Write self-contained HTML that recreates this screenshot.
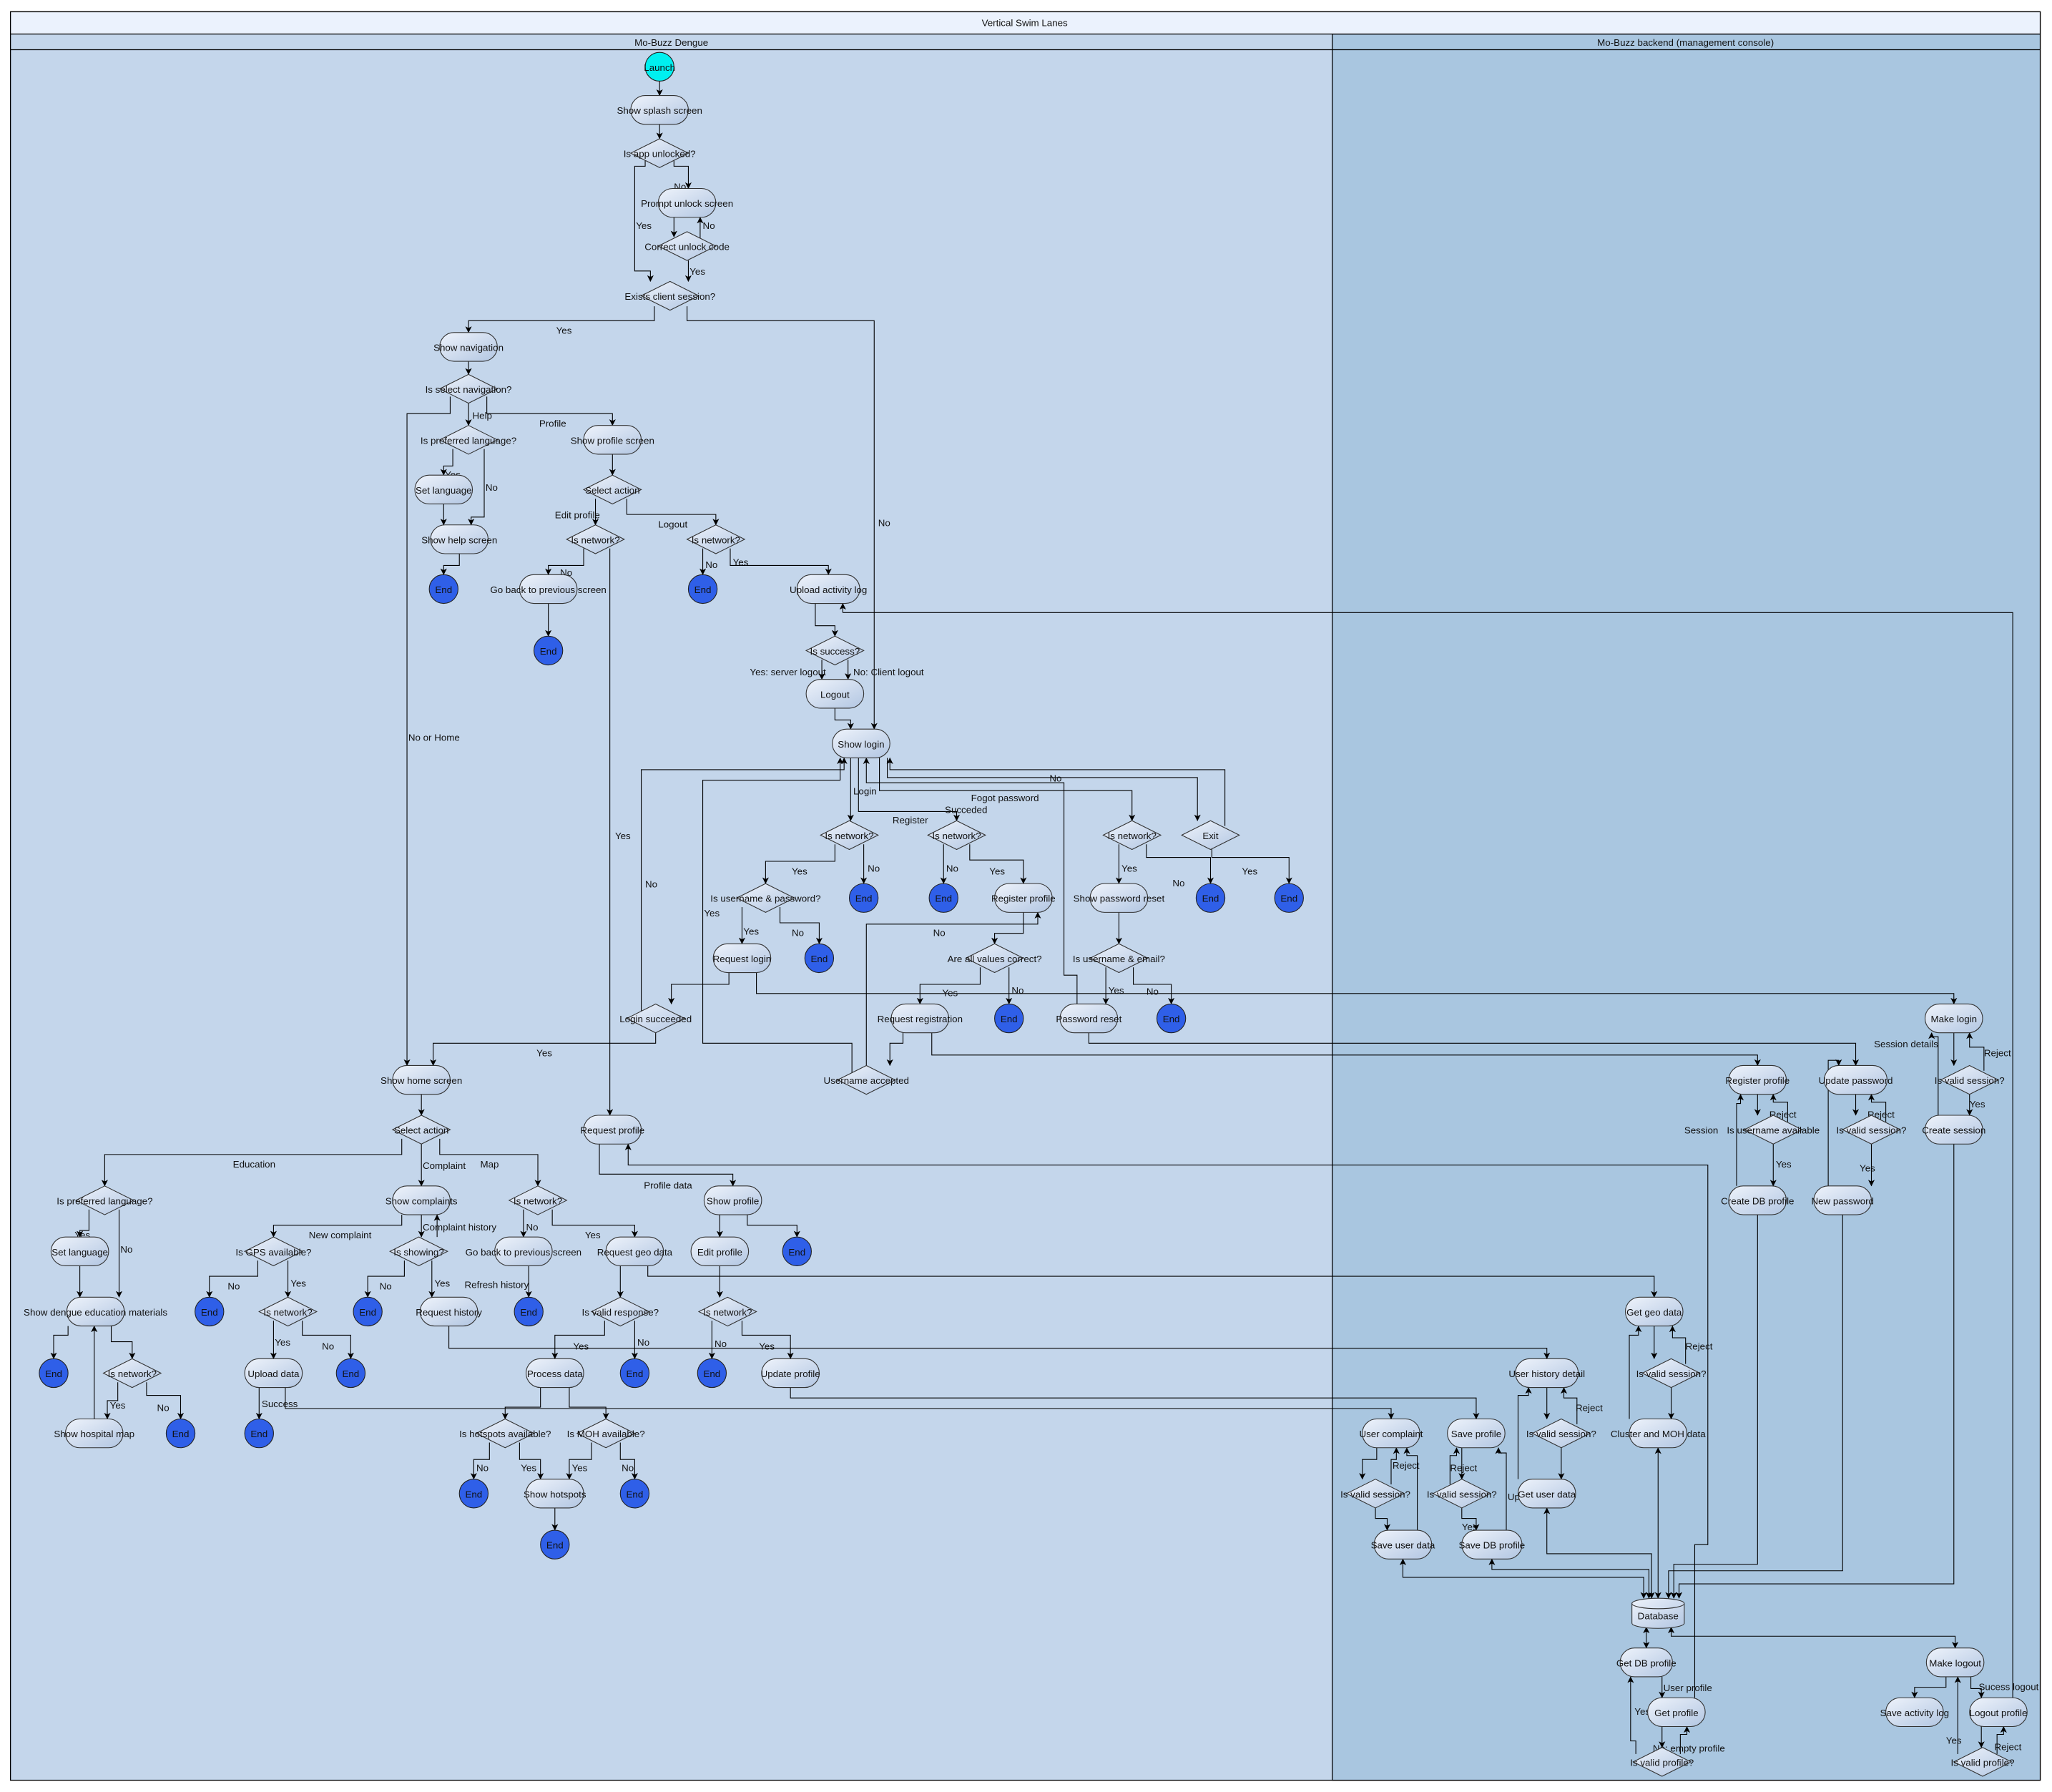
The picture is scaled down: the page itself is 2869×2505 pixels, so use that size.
<!DOCTYPE html>
<html><head><meta charset="utf-8"><style>
html,body{margin:0;padding:0;background:#fff}
svg{display:block}
text{font-family:"Liberation Sans",sans-serif;font-size:7.3px;fill:#111}
.n{fill:url(#g);stroke:#333;stroke-width:0.6}
.e{fill:none;stroke:#000;stroke-width:0.6;marker-end:url(#a)}
.f{fill:none;stroke:#000;stroke-width:0.6}
.end{fill:#2f5fe8;stroke:#222;stroke-width:0.6}
</style></head><body>
<svg width="2869" height="2505" viewBox="0 0 1568 1369" preserveAspectRatio="none" xmlns="http://www.w3.org/2000/svg">
<defs>
<linearGradient id="g" x1="0" y1="0" x2="1" y2="1"><stop offset="0" stop-color="#eef3fb"/><stop offset="1" stop-color="#b2c6e2"/></linearGradient>
<marker id="a" viewBox="0 0 8 8" refX="7.5" refY="4" markerWidth="5" markerHeight="5" markerUnits="userSpaceOnUse" orient="auto"><path d="M0,0 L8,4 L0,8 L2,4 z" fill="#000"/></marker>
<marker id="b" viewBox="0 0 8 8" refX="0.5" refY="4" markerWidth="5" markerHeight="5" markerUnits="userSpaceOnUse" orient="auto"><path d="M8,0 L0,4 L8,8 L6,4 z" fill="#000"/></marker>
</defs>
<!-- frame -->
<rect x="8" y="9" width="1551" height="1351" fill="#c4d6eb" stroke="#000" stroke-width="0.7"/>
<rect x="1018" y="26" width="541" height="1334" fill="#a9c6e0" stroke="#000" stroke-width="0.7"/>
<rect x="8" y="9" width="1551" height="17" fill="#ebf2fd" stroke="#000" stroke-width="0.7"/>
<line x1="8" y1="38" x2="1559" y2="38" stroke="#000" stroke-width="0.7"/>
<text x="783" y="20" text-anchor="middle" font-size="8.5">Vertical Swim Lanes</text>
<text x="513" y="35" text-anchor="middle">Mo-Buzz Dengue</text>
<text x="1288" y="35" text-anchor="middle">Mo-Buzz backend (management console)</text>

<!-- EDGES -->
<g>
<path class="e" d="M504,62V73"/><path class="e" d="M504,95V106"/>
<path class="e" d="M493,122V127H485V207H497V215"/>
<path class="e" d="M515,122V127H526V144"/>
<path class="e" d="M515,166V181"/><path class="e" d="M535,182V166"/>
<path class="e" d="M526,199V215"/>
<path class="e" d="M500,234V245H358V254"/>
<path class="e" d="M525,234V245H668V557"/>
<path class="e" d="M358,276V286"/>
<path class="e" d="M344,303V316H311V814"/>
<path class="e" d="M358,308V325"/>
<path class="e" d="M372,303V316H468V325"/>
<path class="e" d="M346,343V356H339V363"/>
<path class="e" d="M370,343V395H360V401"/>
<path class="e" d="M339,385V401"/>
<path class="e" d="M351,423V432H339V439"/>
<path class="e" d="M468,347V363"/>
<path class="e" d="M455,381V401"/>
<path class="e" d="M479,381V393H547V401"/>
<path class="e" d="M446,419V432H419V439"/>
<path class="e" d="M466,419V852"/>
<path class="e" d="M419,461V486"/>
<path class="e" d="M537,419V439"/>
<path class="e" d="M558,419V432H633V439"/>
<path class="e" d="M623,461V478H638V486"/>
<path class="e" d="M628,504V519"/>
<path class="e" d="M648,504V519"/>
<path class="e" d="M638,541V550H650V557"/>
<path class="e" d="M650,579V627"/>
<path class="e" d="M656,579V620H731V627"/>
<path class="e" d="M672,579V604H865V627"/>
<path class="e" d="M678,579V594H915V627"/>
<path class="e" d="M936,631V588H680V579"/>
<path class="e" d="M926,645V655H985V675"/>
<path class="e" d="M638,645V658H585V675"/>
<path class="e" d="M660,645V675"/>
<path class="e" d="M721,645V675"/>
<path class="e" d="M741,645V657H782V675"/>
<path class="e" d="M855,645V675"/>
<path class="e" d="M876,645V655H925V675"/>
<path class="e" d="M567,693V721"/>
<path class="e" d="M596,693V705H626V721"/>
<path class="e" d="M557,743V752H513V767"/>
<path class="e" d="M578,743V759H1493V767"/>
<path class="e" d="M501,789V797H331V814"/>
<path class="e" d="M490,778V588H645V579"/>
<path class="e" d="M782,697V713H760V721"/>
<path class="e" d="M749,739V752H703V767"/>
<path class="e" d="M771,739V767"/>
<path class="e" d="M690,789V797H680V814"/>
<path class="e" d="M712,789V806H1343V814"/>
<path class="e" d="M662,814V706H793V697"/>
<path class="e" d="M651,820V797H537V596H642V579"/>
<path class="e" d="M855,697V721"/>
<path class="e" d="M845,739V767"/>
<path class="e" d="M866,739V752H895V767"/>
<path class="e" d="M832,789V797H1418V814"/>
<path class="e" d="M823,767V745H813V598H662V579"/>
<path class="e" d="M322,836V852"/>
<path class="e" d="M307,870V882H80V906"/>
<path class="e" d="M322,874V906"/>
<path class="e" d="M336,870V882H411V906"/>
<path class="e" d="M68,924V940H61V945"/>
<path class="e" d="M91,924V991"/>
<path class="e" d="M61,967V991"/>
<path class="e" d="M52,1013V1020H41V1038"/>
<path class="e" d="M85,1013V1025H101V1038"/>
<path class="e" d="M72,1084V1013"/>
<path class="e" d="M90,1056V1070H82V1084"/>
<path class="e" d="M112,1056V1066H138V1084"/>
<path class="e" d="M307,928V936H209V945"/>
<path class="e" d="M322,928V945"/>
<path class="e" d="M334,945V928"/>
<path class="e" d="M197,963V975H160V991"/>
<path class="e" d="M220,963V991"/>
<path class="e" d="M209,1009V1038"/>
<path class="e" d="M231,1009V1020H268V1038"/>
<path class="e" d="M198,1060V1084"/>
<path class="e" d="M218,1060V1076H1063V1084"/>
<path class="e" d="M309,963V975H281V991"/>
<path class="e" d="M330,963V991"/>
<path class="e" d="M343,1013V1030H1182V1038"/>
<path class="e" d="M400,924V945"/>
<path class="e" d="M422,924V936H485V945"/>
<path class="e" d="M404,967V991"/>
<path class="e" d="M474,967V991"/>
<path class="e" d="M495,967V975H1264V991"/>
<path class="e" d="M462,1009V1020H424V1038"/>
<path class="e" d="M485,1009V1038"/>
<path class="e" d="M413,1060V1075H386V1084"/>
<path class="e" d="M435,1060V1075H463V1084"/>
<path class="e" d="M374,1102V1115H362V1130"/>
<path class="e" d="M397,1102V1115H413V1130"/>
<path class="e" d="M452,1102V1115H435V1130"/>
<path class="e" d="M474,1102V1115H485V1130"/>
<path class="e" d="M424,1152V1169"/>
<path class="e" d="M458,874V897H560V906"/>
<path class="e" d="M1295,1297V1180H1305V890H480V874"/>
<path class="e" d="M550,928V945"/>
<path class="e" d="M571,928V936H609V945"/>
<path class="e" d="M550,967V991"/>
<path class="e" d="M544,1009V1038"/>
<path class="e" d="M567,1009V1020H604V1038"/>
<path class="e" d="M604,1060V1068H1128V1084"/>
<path class="f" d="M1538,1297V468H644"/><path class="e" d="M644,468V461"/>
<!-- lane 2 -->
<path class="e" d="M1493,789V814"/>
<path class="e" d="M1516,818V800H1505V789"/>
<path class="e" d="M1505,836V852"/>
<path class="e" d="M1481,852V792H1476V789"/>
<path class="e" d="M1493,874V1210H1283V1221"/>
<path class="e" d="M1343,836V852"/>
<path class="e" d="M1366,857V842H1355V836"/>
<path class="e" d="M1355,874V906"/>
<path class="e" d="M1327,906V843H1330V836"/>
<path class="e" d="M1343,928V1195H1279V1221"/>
<path class="e" d="M1418,836V852"/>
<path class="e" d="M1441,857V842H1430V836"/>
<path class="e" d="M1430,874V906"/>
<path class="e" d="M1397,906V810H1405V814"/>
<path class="e" d="M1408,928V1200H1275V1221"/>
<path class="e" d="M1264,1013V1038"/>
<path class="e" d="M1288,1042V1022H1278V1013"/>
<path class="e" d="M1277,1060V1084"/>
<path class="e" d="M1245,1084V1020H1252V1013"/>
<path class="e" d="M1267,1106V1221" marker-start="url(#b)"/>
<path class="e" d="M1182,1060V1084"/>
<path class="e" d="M1205,1088V1068H1195V1060"/>
<path class="e" d="M1193,1102V1130"/>
<path class="e" d="M1160,1130V1066H1168V1060"/>
<path class="e" d="M1182,1152V1187H1262V1221" marker-start="url(#b)"/>
<path class="e" d="M1052,1106V1115H1041V1130"/>
<path class="e" d="M1063,1134V1115H1067V1106"/>
<path class="e" d="M1051,1152V1160H1060V1169"/>
<path class="e" d="M1083,1169V1112H1075V1106"/>
<path class="e" d="M1072,1191V1205H1256V1221" marker-start="url(#b)"/>
<path class="e" d="M1117,1106V1130"/>
<path class="e" d="M1108,1134V1112H1113V1106"/>
<path class="e" d="M1117,1152V1160H1128V1169"/>
<path class="e" d="M1151,1169V1110H1145V1106"/>
<path class="e" d="M1140,1191V1199H1260V1221" marker-start="url(#b)"/>
<path class="e" d="M1258,1243V1259" marker-start="url(#b)"/>
<path class="e" d="M1270,1281V1297"/>
<path class="e" d="M1284,1340V1325H1289V1319"/>
<path class="e" d="M1270,1319V1335"/>
<path class="e" d="M1250,1340V1330H1246V1281"/>
<path class="e" d="M1277,1243V1250H1494V1259" marker-start="url(#b)"/>
<path class="e" d="M1487,1281V1289H1463V1297"/>
<path class="e" d="M1506,1281V1290H1514V1297"/>
<path class="e" d="M1514,1319V1335"/>
<path class="e" d="M1526,1340V1325H1531V1319"/>
<path class="e" d="M1496,1340V1281"/>
</g>

<!-- EDGE LABELS -->
<g>
<text x="486" y="175">Yes</text><text x="515" y="145">No</text><text x="537" y="175">No</text><text x="527" y="210">Yes</text>
<text x="425" y="255">Yes</text><text x="671" y="402">No</text><text x="312" y="566">No or Home</text>
<text x="361" y="320">Help</text><text x="412" y="326">Profile</text><text x="340" y="365">Yes</text><text x="371" y="375">No</text>
<text x="424" y="396">Edit profile</text><text x="503" y="403">Logout</text><text x="428" y="440">No</text><text x="470" y="641">Yes</text>
<text x="539" y="434">No</text><text x="560" y="432">Yes</text>
<text x="573" y="516">Yes: server logout</text><text x="652" y="516">No: Client logout</text>
<text x="652" y="607">Login</text><text x="682" y="629">Register</text><text x="722" y="621">Succeded</text><text x="742" y="612">Fogot password</text><text x="802" y="597">No</text>
<text x="949" y="668">Yes</text><text x="605" y="668">Yes</text><text x="663" y="666">No</text><text x="723" y="666">No</text><text x="756" y="668">Yes</text>
<text x="857" y="666">Yes</text><text x="896" y="677">No</text><text x="568" y="714">Yes</text><text x="605" y="715">No</text>
<text x="493" y="678">No</text><text x="538" y="700">Yes</text><text x="713" y="715">No</text><text x="720" y="761">Yes</text><text x="773" y="759">No</text>
<text x="847" y="759">Yes</text><text x="876" y="760">No</text><text x="410" y="807">Yes</text>
<text x="178" y="892">Education</text><text x="323" y="893">Complaint</text><text x="367" y="892">Map</text>
<text x="57" y="946">Yes</text><text x="92" y="957">No</text><text x="84" y="1076">Yes</text><text x="120" y="1078">No</text>
<text x="236" y="946">New complaint</text><text x="323" y="940">Complaint history</text><text x="174" y="985">No</text><text x="222" y="983">Yes</text>
<text x="210" y="1028">Yes</text><text x="246" y="1031">No</text><text x="200" y="1075">Success</text>
<text x="290" y="985">No</text><text x="332" y="983">Yes</text><text x="355" y="984">Refresh history</text>
<text x="402" y="940">No</text><text x="447" y="946">Yes</text><text x="438" y="1031">Yes</text><text x="487" y="1028">No</text>
<text x="364" y="1124">No</text><text x="398" y="1124">Yes</text><text x="437" y="1124">Yes</text><text x="475" y="1124">No</text>
<text x="492" y="908">Profile data</text><text x="546" y="1029">No</text><text x="580" y="1031">Yes</text>
<text x="1432" y="800">Session details</text><text x="1516" y="807">Reject</text><text x="1505" y="846">Yes</text>
<text x="1352" y="854">Reject</text><text x="1287" y="866">Session</text><text x="1357" y="892">Yes</text>
<text x="1427" y="854">Reject</text><text x="1421" y="895">Yes</text>
<text x="1288" y="1031">Reject</text><text x="1204" y="1078">Reject</text><text x="1152" y="1146">Update</text>
<text x="1064" y="1122">Reject</text><text x="1108" y="1124">Reject</text><text x="1117" y="1169">Yes</text>
<text x="1271" y="1292">User profile</text><text x="1263" y="1338">No: empty profile</text><text x="1249" y="1310">Yes</text>
<text x="1512" y="1291">Sucess logout</text><text x="1524" y="1337">Reject</text><text x="1487" y="1332">Yes</text>
</g>

<!-- NODES -->
<g text-anchor="middle">
<circle cx="504" cy="51" r="11" fill="#00f0f0" stroke="#222" stroke-width="0.6"/><text x="504" y="54">Launch</text>
<rect x="482" y="73" width="44" height="22" rx="11" class="n"/><text x="504" y="87">Show splash screen</text>
<rect x="503" y="144" width="44" height="22" rx="11" class="n"/><text x="525" y="158">Prompt unlock screen</text>
<rect x="336" y="254" width="44" height="22" rx="11" class="n"/><text x="358" y="268">Show navigation</text>
<rect x="317" y="363" width="44" height="22" rx="11" class="n"/><text x="339" y="377">Set language</text>
<rect x="329" y="401" width="44" height="22" rx="11" class="n"/><text x="351" y="415">Show help screen</text>
<rect x="446" y="325" width="44" height="22" rx="11" class="n"/><text x="468" y="339">Show profile screen</text>
<rect x="397" y="439" width="44" height="22" rx="11" class="n"/><text x="419" y="453">Go back to previous screen</text>
<rect x="609" y="439" width="48" height="22" rx="11" class="n"/><text x="633" y="453">Upload activity log</text>
<rect x="616" y="519" width="44" height="22" rx="11" class="n"/><text x="638" y="533">Logout</text>
<rect x="636" y="557" width="44" height="22" rx="11" class="n"/><text x="658" y="571">Show login</text>
<rect x="760" y="675" width="44" height="22" rx="11" class="n"/><text x="782" y="689">Register profile</text>
<rect x="833" y="675" width="44" height="22" rx="11" class="n"/><text x="855" y="689">Show password reset</text>
<rect x="545" y="721" width="44" height="22" rx="11" class="n"/><text x="567" y="735">Request login</text>
<rect x="681" y="767" width="44" height="22" rx="11" class="n"/><text x="703" y="781">Request registration</text>
<rect x="810" y="767" width="44" height="22" rx="11" class="n"/><text x="832" y="781">Password reset</text>
<rect x="300" y="814" width="44" height="22" rx="11" class="n"/><text x="322" y="828">Show home screen</text>
<rect x="446" y="852" width="44" height="22" rx="11" class="n"/><text x="468" y="866">Request profile</text>
<rect x="300" y="906" width="44" height="22" rx="11" class="n"/><text x="322" y="920">Show complaints</text>
<rect x="538" y="906" width="44" height="22" rx="11" class="n"/><text x="560" y="920">Show profile</text>
<rect x="39" y="945" width="44" height="22" rx="11" class="n"/><text x="61" y="959">Set language</text>
<rect x="378" y="945" width="44" height="22" rx="11" class="n"/><text x="400" y="959">Go back to previous screen</text>
<rect x="463" y="945" width="44" height="22" rx="11" class="n"/><text x="485" y="959">Request geo data</text>
<rect x="528" y="945" width="44" height="22" rx="11" class="n"/><text x="550" y="959">Edit profile</text>
<rect x="51" y="991" width="44" height="22" rx="11" class="n"/><text x="73" y="1005">Show dengue education materials</text>
<rect x="321" y="991" width="44" height="22" rx="11" class="n"/><text x="343" y="1005">Request history</text>
<rect x="187" y="1038" width="44" height="22" rx="11" class="n"/><text x="209" y="1052">Upload data</text>
<rect x="402" y="1038" width="44" height="22" rx="11" class="n"/><text x="424" y="1052">Process data</text>
<rect x="582" y="1038" width="44" height="22" rx="11" class="n"/><text x="604" y="1052">Update profile</text>
<rect x="50" y="1084" width="44" height="22" rx="11" class="n"/><text x="72" y="1098">Show hospital map</text>
<rect x="402" y="1130" width="44" height="22" rx="11" class="n"/><text x="424" y="1144">Show hotspots</text>
<rect x="1471" y="767" width="44" height="22" rx="11" class="n"/><text x="1493" y="781">Make login</text>
<rect x="1471" y="852" width="44" height="22" rx="11" class="n"/><text x="1493" y="866">Create session</text>
<rect x="1321" y="814" width="44" height="22" rx="11" class="n"/><text x="1343" y="828">Register profile</text>
<rect x="1394" y="814" width="48" height="22" rx="11" class="n"/><text x="1418" y="828">Update password</text>
<rect x="1321" y="906" width="44" height="22" rx="11" class="n"/><text x="1343" y="920">Create DB profile</text>
<rect x="1386" y="906" width="44" height="22" rx="11" class="n"/><text x="1408" y="920">New password</text>
<rect x="1242" y="991" width="44" height="22" rx="11" class="n"/><text x="1264" y="1005">Get geo data</text>
<rect x="1245" y="1084" width="44" height="22" rx="11" class="n"/><text x="1267" y="1098">Cluster and MOH data</text>
<rect x="1158" y="1038" width="48" height="22" rx="11" class="n"/><text x="1182" y="1052">User history detail</text>
<rect x="1160" y="1130" width="44" height="22" rx="11" class="n"/><text x="1182" y="1144">Get user data</text>
<rect x="1041" y="1084" width="44" height="22" rx="11" class="n"/><text x="1063" y="1098">User complaint</text>
<rect x="1050" y="1169" width="44" height="22" rx="11" class="n"/><text x="1072" y="1183">Save user data</text>
<rect x="1106" y="1084" width="44" height="22" rx="11" class="n"/><text x="1128" y="1098">Save profile</text>
<rect x="1117" y="1169" width="46" height="22" rx="11" class="n"/><text x="1140" y="1183">Save DB profile</text>
<rect x="1238" y="1259" width="40" height="22" rx="11" class="n"/><text x="1258" y="1273">Get DB profile</text>
<rect x="1259" y="1297" width="44" height="22" rx="11" class="n"/><text x="1281" y="1311">Get profile</text>
<rect x="1472" y="1259" width="44" height="22" rx="11" class="n"/><text x="1494" y="1273">Make logout</text>
<rect x="1441" y="1297" width="44" height="22" rx="11" class="n"/><text x="1463" y="1311">Save activity log</text>
<rect x="1505" y="1297" width="44" height="22" rx="11" class="n"/><text x="1527" y="1311">Logout profile</text>
<path d="M1247,1225 V1240 A20,4 0 0 0 1287,1240 V1225 A20,4 0 0 0 1247,1225 A20,4 0 0 0 1287,1225" class="n"/>
<text x="1267" y="1237">Database</text>
</g>

<!-- DIAMONDS -->
<g text-anchor="middle">
<path class="n" d="M482,117 L504,106 L526,117 L504,128 Z"/><text x="504" y="120">Is app unlocked?</text>
<path class="n" d="M503,188 L525,177 L547,188 L525,199 Z"/><text x="525" y="191">Correct unlock code</text>
<path class="n" d="M490,226 L512,215 L534,226 L512,237 Z"/><text x="512" y="229">Exists client session?</text>
<path class="n" d="M336,297 L358,286 L380,297 L358,308 Z"/><text x="358" y="300">Is select navigation?</text>
<path class="n" d="M336,336 L358,325 L380,336 L358,347 Z"/><text x="358" y="339">Is preferred language?</text>
<path class="n" d="M446,374 L468,363 L490,374 L468,385 Z"/><text x="468" y="377">Select action</text>
<path class="n" d="M433,412 L455,401 L477,412 L455,423 Z"/><text x="455" y="415">Is network?</text>
<path class="n" d="M525,412 L547,401 L569,412 L547,423 Z"/><text x="547" y="415">Is network?</text>
<path class="n" d="M616,497 L638,486 L660,497 L638,508 Z"/><text x="638" y="500">Is success?</text>
<path class="n" d="M627,638 L649,627 L671,638 L649,649 Z"/><text x="649" y="641">Is network?</text>
<path class="n" d="M709,638 L731,627 L753,638 L731,649 Z"/><text x="731" y="641">Is network?</text>
<path class="n" d="M843,638 L865,627 L887,638 L865,649 Z"/><text x="865" y="641">Is network?</text>
<path class="n" d="M903,638 L925,627 L947,638 L925,649 Z"/><text x="925" y="641">Exit</text>
<path class="n" d="M563,686 L585,675 L607,686 L585,697 Z"/><text x="585" y="689">Is username &amp; password?</text>
<path class="n" d="M738,732 L760,721 L782,732 L760,743 Z"/><text x="760" y="735">Are all values correct?</text>
<path class="n" d="M833,732 L855,721 L877,732 L855,743 Z"/><text x="855" y="735">Is username &amp; email?</text>
<path class="n" d="M479,778 L501,767 L523,778 L501,789 Z"/><text x="501" y="781">Login succeeded</text>
<path class="n" d="M640,825 L662,814 L684,825 L662,836 Z"/><text x="662" y="828">Username accepted</text>
<path class="n" d="M300,863 L322,852 L344,863 L322,874 Z"/><text x="322" y="866">Select action</text>
<path class="n" d="M58,917 L80,906 L102,917 L80,928 Z"/><text x="80" y="920">Is preferred language?</text>
<path class="n" d="M389,917 L411,906 L433,917 L411,928 Z"/><text x="411" y="920">Is network?</text>
<path class="n" d="M187,956 L209,945 L231,956 L209,967 Z"/><text x="209" y="959">Is GPS available?</text>
<path class="n" d="M298,956 L320,945 L342,956 L320,967 Z"/><text x="320" y="959">Is showing?</text>
<path class="n" d="M198,1002 L220,991 L242,1002 L220,1013 Z"/><text x="220" y="1005">Is network?</text>
<path class="n" d="M452,1002 L474,991 L496,1002 L474,1013 Z"/><text x="474" y="1005">Is valid response?</text>
<path class="n" d="M534,1002 L556,991 L578,1002 L556,1013 Z"/><text x="556" y="1005">Is network?</text>
<path class="n" d="M79,1049 L101,1038 L123,1049 L101,1060 Z"/><text x="101" y="1052">Is network?</text>
<path class="n" d="M364,1095 L386,1084 L408,1095 L386,1106 Z"/><text x="386" y="1098">Is hotspots available?</text>
<path class="n" d="M441,1095 L463,1084 L485,1095 L463,1106 Z"/><text x="463" y="1098">Is MOH available?</text>
<path class="n" d="M1483,825 L1505,814 L1527,825 L1505,836 Z"/><text x="1505" y="828">Is valid session?</text>
<path class="n" d="M1333,863 L1355,852 L1377,863 L1355,874 Z"/><text x="1355" y="866">Is username available</text>
<path class="n" d="M1408,863 L1430,852 L1452,863 L1430,874 Z"/><text x="1430" y="866">Is valid session?</text>
<path class="n" d="M1255,1049 L1277,1038 L1299,1049 L1277,1060 Z"/><text x="1277" y="1052">Is valid session?</text>
<path class="n" d="M1171,1095 L1193,1084 L1215,1095 L1193,1106 Z"/><text x="1193" y="1098">Is valid session?</text>
<path class="n" d="M1029,1141 L1051,1130 L1073,1141 L1051,1152 Z"/><text x="1051" y="1144">Is valid session?</text>
<path class="n" d="M1095,1141 L1117,1130 L1139,1141 L1117,1152 Z"/><text x="1117" y="1144">Is valid session?</text>
<path class="n" d="M1248,1346 L1270,1335 L1292,1346 L1270,1357 Z"/><text x="1270" y="1349">Is valid profile?</text>
<path class="n" d="M1493,1346 L1515,1335 L1537,1346 L1515,1357 Z"/><text x="1515" y="1349">Is valid profile?</text>
</g>

<!-- END NODES -->
<g text-anchor="middle">
<g><circle class="end" cx="339" cy="450" r="11"/><text x="339" y="453" fill="#fff">End</text></g>
<g><circle class="end" cx="419" cy="497" r="11"/><text x="419" y="500" fill="#fff">End</text></g>
<g><circle class="end" cx="537" cy="450" r="11"/><text x="537" y="453" fill="#fff">End</text></g>
<g><circle class="end" cx="660" cy="686" r="11"/><text x="660" y="689" fill="#fff">End</text></g>
<g><circle class="end" cx="721" cy="686" r="11"/><text x="721" y="689" fill="#fff">End</text></g>
<g><circle class="end" cx="925" cy="686" r="11"/><text x="925" y="689" fill="#fff">End</text></g>
<g><circle class="end" cx="985" cy="686" r="11"/><text x="985" y="689" fill="#fff">End</text></g>
<g><circle class="end" cx="626" cy="732" r="11"/><text x="626" y="735" fill="#fff">End</text></g>
<g><circle class="end" cx="771" cy="778" r="11"/><text x="771" y="781" fill="#fff">End</text></g>
<g><circle class="end" cx="895" cy="778" r="11"/><text x="895" y="781" fill="#fff">End</text></g>
<g><circle class="end" cx="609" cy="956" r="11"/><text x="609" y="959" fill="#fff">End</text></g>
<g><circle class="end" cx="160" cy="1002" r="11"/><text x="160" y="1005" fill="#fff">End</text></g>
<g><circle class="end" cx="281" cy="1002" r="11"/><text x="281" y="1005" fill="#fff">End</text></g>
<g><circle class="end" cx="404" cy="1002" r="11"/><text x="404" y="1005" fill="#fff">End</text></g>
<g><circle class="end" cx="41" cy="1049" r="11"/><text x="41" y="1052" fill="#fff">End</text></g>
<g><circle class="end" cx="268" cy="1049" r="11"/><text x="268" y="1052" fill="#fff">End</text></g>
<g><circle class="end" cx="485" cy="1049" r="11"/><text x="485" y="1052" fill="#fff">End</text></g>
<g><circle class="end" cx="544" cy="1049" r="11"/><text x="544" y="1052" fill="#fff">End</text></g>
<g><circle class="end" cx="138" cy="1095" r="11"/><text x="138" y="1098" fill="#fff">End</text></g>
<g><circle class="end" cx="198" cy="1095" r="11"/><text x="198" y="1098" fill="#fff">End</text></g>
<g><circle class="end" cx="362" cy="1141" r="11"/><text x="362" y="1144" fill="#fff">End</text></g>
<g><circle class="end" cx="485" cy="1141" r="11"/><text x="485" y="1144" fill="#fff">End</text></g>
<g><circle class="end" cx="424" cy="1180" r="11"/><text x="424" y="1183" fill="#fff">End</text></g>
</g>
</svg>
</body></html>
